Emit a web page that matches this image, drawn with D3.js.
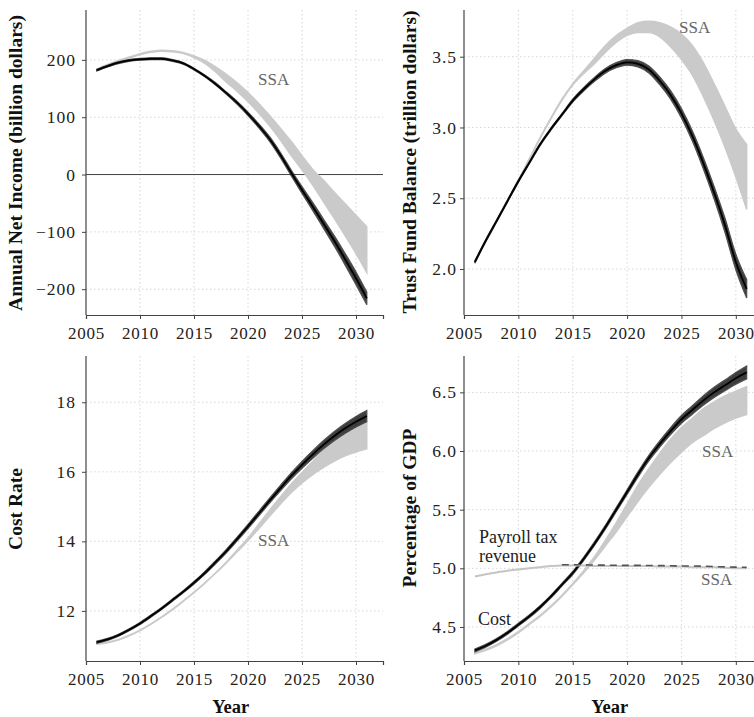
<!DOCTYPE html>
<html>
<head>
  <meta charset="utf-8">
  <script src="https://d3js.org/d3.v7.min.js"></script>
  <style>
    body { margin: 0; background: #fff; }
    text { font-family: "Liberation Serif", "Times New Roman", serif; }
  </style>
</head>
<body>
<script>
  var W = 754, H = 717;

  var years = d3.range(2006, 2032);
  var xTicks = [2005, 2010, 2015, 2020, 2025, 2030];

  // Annual net income (billion dollars)
  var incomeMid = [182,189,195,199,201,202,202,199,194,184,172,158,142,125,106,85,62,34,3,-27,-56,-86,-116,-148,-181,-216];
  var incomeSpread = [1.5,1.5,1.5,1.5,1.5,1.5,1.5,1.5,1.5,1.5,1.5,2,2,2.5,3,3.5,4,4.5,5,6,7,8,9,10,11,11];
  var incomeSsaHi = [184,192,199,205,211,215,217,216,213,207,199,188,175,160,143,124,103,81,58,33,9,-10,-31,-51,-71,-91];
  var incomeSsaLo = [182,190,197,203,209,213,215,214,211,204,194,179,161,145,127,107,85,60,33,8,-19,-48,-77,-107,-138,-171];
  var incomeTicks = [-200, -100, 0, 100, 200];

  // Trust fund balance (trillion dollars)
  var fundMid = [2.05,2.20,2.34,2.48,2.62,2.75,2.88,2.99,3.09,3.19,3.27,3.34,3.40,3.44,3.46,3.45,3.41,3.33,3.23,3.10,2.94,2.75,2.54,2.31,2.05,1.86];
  var fundSpread = [0.008,0.008,0.008,0.008,0.008,0.008,0.008,0.008,0.008,0.01,0.012,0.014,0.016,0.018,0.02,0.022,0.025,0.028,0.03,0.033,0.036,0.04,0.044,0.05,0.055,0.065];
  var fundSsaHi = [2.05,2.20,2.34,2.49,2.63,2.78,2.93,3.07,3.20,3.31,3.40,3.49,3.58,3.65,3.70,3.74,3.75,3.74,3.71,3.66,3.58,3.46,3.31,3.15,2.99,2.88];
  var fundSsaLo = [2.04,2.19,2.33,2.48,2.62,2.77,2.92,3.06,3.19,3.30,3.38,3.45,3.53,3.60,3.65,3.67,3.67,3.64,3.57,3.48,3.37,3.22,3.05,2.86,2.65,2.42];
  var fundTicks = [2.0, 2.5, 3.0, 3.5];

  // Cost rate
  var costMid = [11.10,11.18,11.30,11.46,11.64,11.85,12.07,12.31,12.55,12.81,13.09,13.40,13.72,14.07,14.43,14.80,15.17,15.53,15.88,16.20,16.50,16.78,17.03,17.25,17.44,17.60];
  var costSpread = [0.03,0.03,0.03,0.03,0.03,0.03,0.03,0.03,0.03,0.035,0.04,0.045,0.05,0.055,0.06,0.065,0.07,0.08,0.09,0.1,0.11,0.12,0.13,0.14,0.15,0.16];
  var costSsaHi = [11.06,11.10,11.18,11.30,11.45,11.63,11.83,12.05,12.29,12.54,12.81,13.10,13.41,13.75,14.10,14.50,14.90,15.28,15.65,15.98,16.30,16.62,16.88,17.10,17.28,17.42];
  var costSsaLo = [11.04,11.08,11.16,11.28,11.43,11.61,11.81,12.03,12.27,12.52,12.79,13.08,13.38,13.70,14.02,14.36,14.72,15.07,15.40,15.68,15.92,16.13,16.31,16.46,16.57,16.66];
  var costTicks = [12, 14, 16, 18];

  // Percentage of GDP: cost and payroll tax revenue
  var gdpCostMid = [4.30,4.34,4.39,4.45,4.52,4.59,4.67,4.76,4.86,4.96,5.08,5.21,5.35,5.50,5.65,5.80,5.94,6.06,6.17,6.27,6.35,6.43,6.50,6.56,6.62,6.67];
  var gdpCostSpread = [0.012,0.012,0.012,0.012,0.012,0.012,0.012,0.012,0.012,0.013,0.014,0.015,0.016,0.018,0.02,0.022,0.024,0.027,0.03,0.033,0.036,0.04,0.043,0.046,0.05,0.055];
  var gdpCostSsaHi = [4.28,4.31,4.35,4.40,4.46,4.53,4.60,4.68,4.77,4.87,4.98,5.10,5.24,5.39,5.55,5.71,5.85,5.98,6.10,6.20,6.28,6.36,6.42,6.47,6.51,6.55];
  var gdpCostSsaLo = [4.27,4.30,4.34,4.39,4.45,4.52,4.59,4.67,4.76,4.86,4.96,5.07,5.19,5.31,5.44,5.57,5.69,5.80,5.90,5.99,6.07,6.13,6.19,6.24,6.28,6.31];
  var payrollSsa = [4.93,4.95,4.965,4.98,4.99,5.0,5.01,5.02,5.025,5.025,5.025,5.02,5.02,5.02,5.02,5.02,5.02,5.015,5.015,5.015,5.01,5.01,5.01,5.005,5.0,5.0];
  var payrollSim = [null,null,null,null,null,null,null,null,5.03,5.03,5.03,5.028,5.027,5.026,5.025,5.025,5.024,5.023,5.022,5.02,5.02,5.018,5.015,5.012,5.01,5.008];
  var gdpTicks = [4.5, 5.0, 5.5, 6.0, 6.5];

  var svg = d3.select("body").append("svg")
    .attr("width", W).attr("height", H)
    .attr("font-family", "'Liberation Serif', 'Times New Roman', serif");

  var defs = svg.append("defs");
  defs.append("filter").attr("id", "soft")
    .attr("x", "-5%").attr("y", "-5%").attr("width", "110%").attr("height", "110%")
    .append("feGaussianBlur").attr("stdDeviation", 0.55);

  var panels = [
    {left: 86, right: 383, top: 10, bottom: 315, yDomain: [-245, 287], ticks: incomeTicks, fmt: d3.format("d"), labelGap: 10,
     mid: incomeMid, spread: incomeSpread, ssaHi: incomeSsaHi, ssaLo: incomeSsaLo,
     title: "Annual Net Income (billion dollars)", titleX: 22, titleY: 163, zero: true},
    {left: 464, right: 763, top: 10, bottom: 315, yDomain: [1.675, 3.83], ticks: fundTicks, fmt: d3.format(".1f"), labelGap: 7,
     mid: fundMid, spread: fundSpread, ssaHi: fundSsaHi, ssaLo: fundSsaLo,
     title: "Trust Fund Balance (trillion dollars)", titleX: 416, titleY: 162},
    {left: 86, right: 383, top: 356, bottom: 661, yDomain: [10.56, 19.33], ticks: costTicks, fmt: d3.format("d"), labelGap: 10,
     mid: costMid, spread: costSpread, ssaHi: costSsaHi, ssaLo: costSsaLo,
     title: "Cost Rate", titleX: 22, titleY: 509, year: true},
    {left: 464, right: 763, top: 356, bottom: 661, yDomain: [4.21, 6.81], ticks: gdpTicks, fmt: d3.format(".1f"), labelGap: 7,
     mid: gdpCostMid, spread: gdpCostSpread, ssaHi: gdpCostSsaHi, ssaLo: gdpCostSsaLo,
     title: "Percentage of GDP", titleX: 416, titleY: 508, year: true, payroll: true}
  ];

  panels.forEach(function(p, i) {
    var x = d3.scaleLinear().domain([2005, 2032.5]).range([p.left, p.right]);
    var y = d3.scaleLinear().domain(p.yDomain).range([p.bottom, p.top]);
    var g = svg.append("g");

    // dotted grid
    g.selectAll(".vg").data(xTicks.slice(1)).enter().append("line")
      .attr("x1", function(d){return x(d);}).attr("x2", function(d){return x(d);})
      .attr("y1", p.top).attr("y2", p.bottom)
      .attr("stroke", "#d6d6d6").attr("stroke-width", 1).attr("stroke-dasharray", "1.5,2.5");
    g.selectAll(".hg").data(p.ticks).enter().append("line")
      .attr("x1", p.left).attr("x2", p.right)
      .attr("y1", function(d){return y(d);}).attr("y2", function(d){return y(d);})
      .attr("stroke", "#d6d6d6").attr("stroke-width", 1).attr("stroke-dasharray", "1.5,2.5");

    if (p.zero) {
      g.append("line").attr("x1", p.left).attr("x2", p.right)
        .attr("y1", y(0)).attr("y2", y(0))
        .attr("stroke", "#444").attr("stroke-width", 1);
    }

    // SSA band
    var ssaArea = d3.area()
      .x(function(d, k){return x(years[k]);})
      .y0(function(d, k){return y(p.ssaLo[k]);})
      .y1(function(d, k){return y(p.ssaHi[k]);})
      .curve(d3.curveMonotoneX);
    g.append("path").datum(years).attr("d", ssaArea)
      .attr("fill", "#cacaca").attr("stroke", "#cacaca").attr("stroke-width", 1.4);

    // simulated band (black)
    var simArea = d3.area()
      .x(function(d, k){return x(years[k]);})
      .y0(function(d, k){return y(p.mid[k] - p.spread[k]);})
      .y1(function(d, k){return y(p.mid[k] + p.spread[k]);})
      .curve(d3.curveMonotoneX);
    var simLine = d3.line()
      .x(function(d, k){return x(years[k]);})
      .y(function(d, k){return y(p.mid[k]);})
      .curve(d3.curveMonotoneX);
    g.append("path").datum(years).attr("d", simArea)
      .attr("fill", "#111").attr("stroke", "#222").attr("stroke-width", 1.2)
      .attr("opacity", 0.8).attr("filter", "url(#soft)");
    g.append("path").datum(years).attr("d", simLine)
      .attr("fill", "none").attr("stroke", "#000").attr("stroke-width", 1.8);

    if (p.payroll) {
      var ssaPay = d3.line()
        .x(function(d, k){return x(years[k]);})
        .y(function(d, k){return y(payrollSsa[k]);})
        .curve(d3.curveMonotoneX);
      g.append("path").datum(years).attr("d", ssaPay)
        .attr("fill", "none").attr("stroke", "#c4c4c4").attr("stroke-width", 2);
      var simPay = d3.line()
        .defined(function(d, k){return payrollSim[k] != null;})
        .x(function(d, k){return x(years[k]);})
        .y(function(d, k){return y(payrollSim[k]);})
        .curve(d3.curveMonotoneX);
      g.append("path").datum(years).attr("d", simPay)
        .attr("fill", "none").attr("stroke", "#555").attr("stroke-width", 1.6)
        .attr("stroke-dasharray", "7,5");
    }

    // axes
    var xAxis = d3.axisBottom(x).tickValues(xTicks).tickSize(4).tickFormat(d3.format("d"));
    var gx = g.append("g").attr("transform", "translate(0," + p.bottom + ")").call(xAxis)
      .attr("font-family", null);
    gx.select(".domain").attr("stroke", "#444").attr("stroke-width", 1.2);
    gx.selectAll(".tick line").attr("stroke", "#444");
    gx.selectAll(".tick text").attr("font-size", "17px").attr("fill", "#222")
      .attr("letter-spacing", "0.7px").attr("y", 10).attr("dy", "0.85em");

    var yAxis = d3.axisLeft(y).tickValues(p.ticks).tickSize(4).tickFormat(function(d){
      return p.fmt(d).replace("-", "\u2212");
    });
    var gy = g.append("g").attr("transform", "translate(" + p.left + ",0)").call(yAxis)
      .attr("font-family", null);
    gy.select(".domain").attr("stroke", "#444").attr("stroke-width", 1.2)
      .attr("d", "M0," + p.top + "V" + p.bottom);
    gy.selectAll(".tick line").attr("stroke", "#444");
    gy.selectAll(".tick text").attr("font-size", "17.5px").attr("fill", "#222")
      .attr("letter-spacing", "1px").attr("x", -p.labelGap);

    g.append("text")
      .attr("transform", "translate(" + p.titleX + "," + p.titleY + ") rotate(-90)")
      .attr("text-anchor", "middle")
      .attr("font-size", "19.5px").attr("font-weight", "bold").attr("fill", "#111")
      .text(p.title);

    if (p.year) {
      g.append("text").attr("x", x(2018.4)).attr("y", 713)
        .attr("text-anchor", "middle")
        .attr("font-size", "18.5px").attr("font-weight", "bold").attr("fill", "#111")
        .text("Year");
    }
  });

  // annotations
  var notes = [
    {x: 258, y: 85, t: "SSA", c: "#666", s: 17},
    {x: 679, y: 33, t: "SSA", c: "#666", s: 17},
    {x: 258, y: 546, t: "SSA", c: "#666", s: 17},
    {x: 702, y: 457, t: "SSA", c: "#666", s: 17},
    {x: 701, y: 585, t: "SSA", c: "#666", s: 17},
    {x: 479, y: 543, t: "Payroll tax", c: "#222", s: 18},
    {x: 479, y: 562, t: "revenue", c: "#222", s: 18},
    {x: 478, y: 625, t: "Cost", c: "#222", s: 18}
  ];
  svg.selectAll(".note").data(notes).enter().append("text")
    .attr("x", function(d){return d.x;}).attr("y", function(d){return d.y;})
    .attr("fill", function(d){return d.c;})
    .attr("font-size", function(d){return d.s + "px";})
    .text(function(d){return d.t;});
</script>
</body>
</html>
